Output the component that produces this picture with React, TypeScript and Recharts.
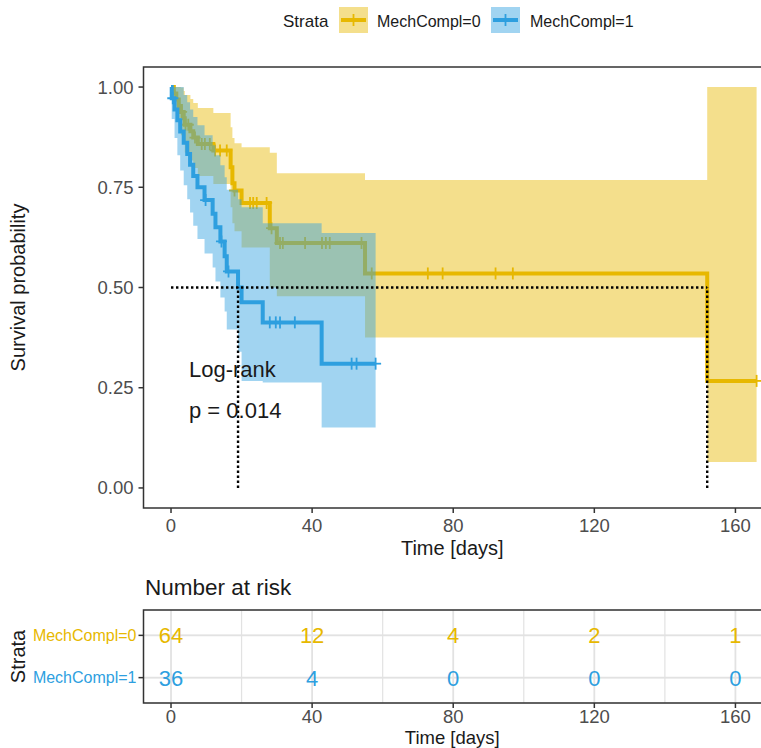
import React from "react";
import {
  ComposedChart,
  Area,
  Line,
  Scatter,
  XAxis,
  YAxis,
  CartesianGrid,
  ReferenceArea,
  Label,
} from "recharts";

const YELLOW = "#E7B800";
const BLUE = "#2E9FDF";
const BAND_OPACITY = 0.45;
const INK = "#1A1A1A";
const TICK_INK = "#4D4D4D";
const GRID = "#E2E2E2";
const BORDER = "#333333";
const FONT = "'Liberation Sans', Arial, Helvetica, sans-serif";

const STRATA = ["MechCompl=0", "MechCompl=1"];

// MechCompl=0 : step times, survival, CI
const time0 = [0, 0.8, 1.5, 2.2, 2.8, 3.6, 3.9, 5.5, 6.3, 7.6, 12.0, 16.9, 17.4, 18.0, 20.0, 28.0, 30.0, 55.0, 152.0, 166.0];
const surv0 = [1, 0.984, 0.969, 0.953, 0.938, 0.922, 0.906, 0.89, 0.874, 0.858, 0.842, 0.8, 0.76, 0.742, 0.711, 0.648, 0.611, 0.535, 0.267, 0.267];
const upper0 = [1, 1, 1, 1, 0.999, 0.99, 0.98, 0.97, 0.96, 0.948, 0.935, 0.9, 0.873, 0.86, 0.85, 0.836, 0.785, 0.768, 1, 1];
const lower0 = [1, 0.954, 0.927, 0.902, 0.88, 0.858, 0.837, 0.817, 0.798, 0.778, 0.758, 0.7, 0.66, 0.64, 0.6, 0.5, 0.478, 0.375, 0.065, 0.065];
const censorTime0 = [3.0, 4.1, 4.9, 6.8, 8.7, 9.6, 11.0, 12.5, 13.9, 15.8, 18.0, 22.4, 23.3, 24.3, 27.1, 28.5, 30.9, 31.7, 38.0, 42.8, 43.9, 45.0, 54.0, 56.9, 72.8, 77.0, 92.0, 96.9, 166.0];
const censorSurv0 = [0.938, 0.906, 0.906, 0.874, 0.858, 0.858, 0.858, 0.842, 0.842, 0.842, 0.742, 0.711, 0.711, 0.711, 0.711, 0.648, 0.611, 0.611, 0.611, 0.611, 0.611, 0.611, 0.611, 0.535, 0.535, 0.535, 0.535, 0.535, 0.267];

// MechCompl=1
const time1 = [0, 0.2, 1.0, 1.8, 2.6, 3.6, 4.6, 5.4, 6.3, 7.5, 9.5, 11.8, 12.6, 14.0, 15.2, 15.8, 19.0, 20.0, 26.0, 42.7, 58.0];
const surv1 = [1, 0.972, 0.944, 0.917, 0.889, 0.861, 0.833, 0.806, 0.778, 0.75, 0.718, 0.684, 0.65, 0.615, 0.578, 0.54, 0.5, 0.463, 0.413, 0.31, 0.31];
const upper1 = [1, 1, 1, 1, 1, 0.98, 0.962, 0.944, 0.925, 0.905, 0.88, 0.855, 0.83, 0.805, 0.775, 0.744, 0.72, 0.7, 0.66, 0.636, 0.636];
const lower1 = [1, 0.92, 0.873, 0.83, 0.792, 0.755, 0.72, 0.687, 0.654, 0.621, 0.585, 0.55, 0.515, 0.475, 0.44, 0.395, 0.34, 0.267, 0.263, 0.151, 0.151];
const censorTime1 = [0.5, 9.8, 14.3, 16.3, 28.0, 29.7, 30.9, 35.1, 51.2, 52.6, 58.0];
const censorSurv1 = [0.972, 0.718, 0.615, 0.54, 0.413, 0.413, 0.413, 0.413, 0.31, 0.31, 0.31];

// median survival times
const medianTimes = [19, 152];
const medianLevel = 0.5;

// number at risk
const riskTimes = [0, 40, 80, 120, 160];
const risk0 = [64, 12, 4, 2, 1];
const risk1 = [36, 4, 0, 0, 0];

const X_DOMAIN: [number, number] = [-7.8, 169.8];
const Y_DOMAIN: [number, number] = [-0.05, 1.05];
const X_MAJOR = [0, 40, 80, 120, 160];
const X_MINOR = [20, 60, 100, 140];
const Y_MAJOR = [0, 0.25, 0.5, 0.75, 1];
const Y_MINOR = [0.125, 0.375, 0.625, 0.875];

const steps = (t: number[], s: number[]) => t.map((x, i) => ({ t: x, s: s[i] }));
const band = (t: number[], lo: number[], up: number[]) => t.map((x, i) => ({ t: x, ci: [lo[i], up[i]] }));

const curve0 = steps(time0, surv0);
const curve1 = steps(time1, surv1);
const band0 = band(time0, lower0, upper0);
const band1 = band(time1, lower1, upper1);
const cens0 = steps(censorTime0, censorSurv0);
const cens1 = steps(censorTime1, censorSurv1);

const medianH = [
  { t: 0, s: medianLevel },
  { t: Math.max(...medianTimes), s: medianLevel },
];
const medianV = medianTimes.map((m) => [
  { t: m, s: 0 },
  { t: m, s: medianLevel },
]);

const riskRows0 = riskTimes.map((t, i) => ({ t, row: 2, n: risk0[i] }));
const riskRows1 = riskTimes.map((t, i) => ({ t, row: 1, n: risk1[i] }));

const cross = (color: string) => (p: any) => {
  const { cx, cy } = p;
  if (cx == null || cy == null) return <g />;
  return (
    <g stroke={color} strokeWidth={1.8}>
      <line x1={cx - 5.5} x2={cx + 5.5} y1={cy} y2={cy} />
      <line x1={cx} x2={cx} y1={cy - 6} y2={cy + 6} />
    </g>
  );
};

const riskText = (color: string) => (p: any) => {
  const { cx, cy, payload } = p;
  return (
    <text x={cx} y={cy + 8} textAnchor="middle" fontSize={22} fill={color} fontFamily={FONT}>
      {payload.n}
    </text>
  );
};

const xTick = (dy: number) => (p: any) => (
  <text x={p.x} y={p.y + dy} textAnchor="middle" fontSize={18.5} fill={TICK_INK} fontFamily={FONT}>
    {p.payload.value}
  </text>
);

const YTick = (p: any) => (
  <text x={p.x - 3} y={p.y + 6.5} textAnchor="end" fontSize={18.5} fill={TICK_INK} fontFamily={FONT}>
    {Number(p.payload.value).toFixed(2)}
  </text>
);

const RiskYTick = (p: any) => {
  const idx = p.payload.value === 2 ? 0 : 1;
  return (
    <text x={p.x} y={p.y + 5.5} textAnchor="end" fontSize={16} fill={idx === 0 ? YELLOW : BLUE} fontFamily={FONT}>
      {STRATA[idx]}
    </text>
  );
};

const xTitle = (dy: number, size: number) => (p: any) => {
  const vb = p.viewBox;
  return (
    <text x={vb.x + (761 - vb.x) / 2} y={vb.y + dy} textAnchor="middle" fontSize={size} fill={INK} fontFamily={FONT}>
      Time [days]
    </text>
  );
};

const yTitle = (text: string) => (p: any) => {
  const vb = p.viewBox;
  const cy = vb.y + vb.height / 2;
  return (
    <text x={25} y={cy} transform={`rotate(-90, 25, ${cy})`} textAnchor="middle" fontSize={20} fill={INK} fontFamily={FONT}>
      {text}
    </text>
  );
};

const tickLine = { stroke: BORDER, strokeWidth: 1.5 };
const CHART_W = 770;
const MAIN_H = 560;
const MAIN_MARGIN = { top: 67, right: 0, bottom: 0, left: 0 };

function LegendKey({ x, color }: { x: number; color: string }) {
  return (
    <g>
      <rect x={x} y={7} width={29} height={26} fill={color} fillOpacity={BAND_OPACITY} />
      <line x1={x + 2} x2={x + 27} y1={20} y2={20} stroke={color} strokeWidth={4} />
      <line x1={x + 14.5} x2={x + 14.5} y1={14} y2={26} stroke={color} strokeWidth={1.8} />
    </g>
  );
}

// Bottom layer: grid + MechCompl=0 (drawn under the MechCompl=1 band, as in ggplot)
function YellowLayer() {
  return (
    <ComposedChart width={CHART_W} height={MAIN_H} margin={MAIN_MARGIN}>
      <CartesianGrid horizontalValues={Y_MINOR} verticalValues={X_MINOR} stroke={GRID} strokeWidth={1.2} />
      <CartesianGrid horizontalValues={Y_MAJOR} verticalValues={X_MAJOR} stroke={GRID} strokeWidth={1.8} />
      <XAxis type="number" dataKey="t" domain={X_DOMAIN} allowDataOverflow ticks={X_MAJOR} height={52} axisLine={false} tickLine={false} tick={false} />
      <YAxis type="number" domain={Y_DOMAIN} allowDataOverflow ticks={Y_MAJOR} width={143.5} axisLine={false} tickLine={false} tick={false} />
      <Area data={band0} dataKey="ci" type="stepAfter" fill={YELLOW} fillOpacity={BAND_OPACITY} stroke="none" isAnimationActive={false} />
      <Line data={curve0} dataKey="s" type="stepAfter" stroke={YELLOW} strokeWidth={4} dot={false} isAnimationActive={false} />
      <Scatter data={cens0} dataKey="s" shape={cross(YELLOW)} isAnimationActive={false} />
    </ComposedChart>
  );
}

// Top layer: MechCompl=1, medians, axes, border
function BlueLayer() {
  return (
    <ComposedChart width={CHART_W} height={MAIN_H} margin={MAIN_MARGIN}>
      <XAxis
        type="number"
        dataKey="t"
        domain={X_DOMAIN}
        allowDataOverflow
        ticks={X_MAJOR}
        interval={0}
        height={52}
        tickSize={5}
        axisLine={false}
        tickLine={tickLine}
        tick={xTick(17)}
      >
        <Label content={xTitle(47, 20)} />
      </XAxis>
      <YAxis
        type="number"
        domain={Y_DOMAIN}
        allowDataOverflow
        ticks={Y_MAJOR}
        interval={0}
        width={143.5}
        tickSize={5}
        axisLine={false}
        tickLine={tickLine}
        tick={YTick}
      >
        <Label content={yTitle("Survival probability")} />
      </YAxis>
      <Area data={band1} dataKey="ci" type="stepAfter" fill={BLUE} fillOpacity={BAND_OPACITY} stroke="none" isAnimationActive={false} />
      <Line data={curve1} dataKey="s" type="stepAfter" stroke={BLUE} strokeWidth={4} dot={false} isAnimationActive={false} />
      <Scatter data={cens1} dataKey="s" shape={cross(BLUE)} isAnimationActive={false} />
      <Line data={medianH} dataKey="s" type="linear" stroke="#000" strokeWidth={2.4} strokeDasharray="2.4 2.6" dot={false} isAnimationActive={false} />
      {medianV.map((seg, i) => (
        <Line
          key={i}
          data={seg}
          dataKey="s"
          type="linear"
          stroke="#000"
          strokeWidth={2.4}
          strokeDasharray="2.4 2.6"
          dot={false}
          isAnimationActive={false}
        />
      ))}
      <ReferenceArea
        x1={X_DOMAIN[0]}
        x2={X_DOMAIN[1]}
        y1={Y_DOMAIN[0]}
        y2={Y_DOMAIN[1]}
        fill="none"
        stroke={BORDER}
        strokeWidth={1.5}
        ifOverflow="visible"
      />
    </ComposedChart>
  );
}

function RiskTable() {
  return (
    <ComposedChart width={CHART_W} height={188} margin={{ top: 50, right: 0, bottom: 0, left: 0 }}>
      <CartesianGrid horizontalValues={[]} verticalValues={X_MINOR} stroke={GRID} strokeWidth={1.2} />
      <CartesianGrid horizontalValues={[1, 2]} verticalValues={X_MAJOR} stroke={GRID} strokeWidth={1.8} />
      <XAxis
        type="number"
        dataKey="t"
        domain={X_DOMAIN}
        allowDataOverflow
        ticks={X_MAJOR}
        interval={0}
        height={45}
        tickSize={5}
        axisLine={false}
        tickLine={tickLine}
        tick={xTick(12.5)}
      >
        <Label content={xTitle(40.5, 18.5)} />
      </XAxis>
      <YAxis
        type="number"
        domain={[0.4, 2.6]}
        allowDataOverflow
        ticks={[1, 2]}
        interval={0}
        width={143.5}
        tickSize={5}
        axisLine={false}
        tickLine={tickLine}
        tick={RiskYTick}
      >
        <Label content={yTitle("Strata")} />
      </YAxis>
      <Scatter data={riskRows0} dataKey="row" shape={riskText(YELLOW)} isAnimationActive={false} />
      <Scatter data={riskRows1} dataKey="row" shape={riskText(BLUE)} isAnimationActive={false} />
      <ReferenceArea
        x1={X_DOMAIN[0]}
        x2={X_DOMAIN[1]}
        y1={0.4}
        y2={2.6}
        fill="none"
        stroke={BORDER}
        strokeWidth={1.5}
        ifOverflow="visible"
      />
    </ComposedChart>
  );
}

export default function App() {
  return (
    <div
      style={{
        position: "absolute",
        left: 0,
        top: 0,
        width: 761,
        height: 748,
        overflow: "hidden",
        background: "#fff",
        fontFamily: FONT,
      }}
    >
      <div style={{ position: "absolute", left: 0, top: 0 }}>
        <YellowLayer />
      </div>
      <div style={{ position: "absolute", left: 0, top: 0 }}>
        <BlueLayer />
      </div>
      <div style={{ position: "absolute", left: 0, top: 560 }}>
        <RiskTable />
      </div>

      <svg
        width={761}
        height={748}
        style={{ position: "absolute", left: 0, top: 0, pointerEvents: "none" }}
        fontFamily={FONT}
      >
        <text x={283} y={27} fontSize={17} fill={INK}>
          Strata
        </text>
        <LegendKey x={339} color={YELLOW} />
        <text x={377} y={27} fontSize={16} fill={INK}>
          {STRATA[0]}
        </text>
        <LegendKey x={491} color={BLUE} />
        <text x={530} y={27} fontSize={16} fill={INK}>
          {STRATA[1]}
        </text>

        <text x={189} y={377} fontSize={22} fill={INK}>
          Log-rank
        </text>
        <text x={189} y={418} fontSize={22} fill={INK}>
          p = 0.014
        </text>

        <text x={145} y={595} fontSize={22.5} fill={INK}>
          Number at risk
        </text>
      </svg>
    </div>
  );
}
